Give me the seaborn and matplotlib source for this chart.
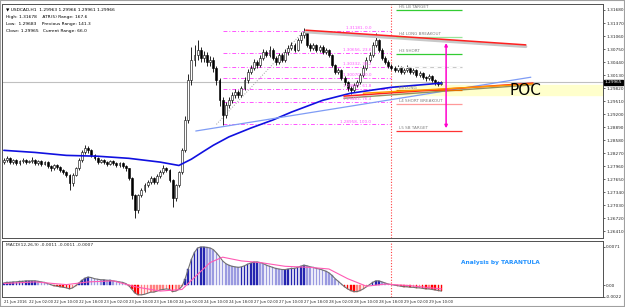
import numpy as np
import pandas as pd
import matplotlib.pyplot as plt
import seaborn as sns
from matplotlib.transforms import blended_transform_factory

sns.set_style("white")
plt.rcParams["font.family"] = ["DejaVu Sans"]

# ---- USDCAD H1 candles ----
open_first = 1.2806
close = [
    1.2810, 1.2815, 1.2806, 1.2810, 1.2803, 1.2808, 1.2810, 1.2806, 1.2808, 1.2810,
    1.2803, 1.2808, 1.2801, 1.2806, 1.2796, 1.2791, 1.2798, 1.2794, 1.2787, 1.2782,
    1.2775, 1.2756, 1.2775, 1.2791, 1.2810, 1.2829, 1.2839, 1.2834, 1.2822, 1.2815,
    1.2806, 1.2810, 1.2806, 1.2801, 1.2808, 1.2803, 1.2798, 1.2803, 1.2796, 1.2791,
    1.2768, 1.2727, 1.2691, 1.2727, 1.2739, 1.2751, 1.2758, 1.2768, 1.2758, 1.2772,
    1.2782, 1.2791, 1.2787, 1.2763, 1.2720, 1.2751, 1.2782, 1.2834, 1.2906, 1.3001,
    1.3049, 1.3061, 1.3073, 1.3054, 1.3061, 1.3044, 1.3049, 1.3030, 1.3001, 1.2953,
    1.2918, 1.2941, 1.2953, 1.2965, 1.2973, 1.2965, 1.2982, 1.3001, 1.3020, 1.3030,
    1.3044, 1.3037, 1.3054, 1.3068, 1.3061, 1.3073, 1.3054, 1.3044, 1.3061, 1.3049,
    1.3068, 1.3077, 1.3085, 1.3073, 1.3096, 1.3108, 1.3116, 1.3085, 1.3077, 1.3085,
    1.3073, 1.3080, 1.3068, 1.3073, 1.3061, 1.3037, 1.3020, 1.3025, 1.3006, 1.2996,
    1.2982, 1.2977, 1.2989, 1.2996, 1.3013, 1.3030, 1.3049, 1.3061, 1.3085, 1.3096,
    1.3073, 1.3054, 1.3044, 1.3035, 1.3030, 1.3025, 1.3032, 1.3020, 1.3025, 1.3030,
    1.3020, 1.3025, 1.3013, 1.3018, 1.3008, 1.3006, 1.3011, 1.3001, 1.2996, 1.2992,
    1.2996]
high = [
    1.2816, 1.2820, 1.2818, 1.2814, 1.2813, 1.2812, 1.2815, 1.2814, 1.2812, 1.2817,
    1.2813, 1.2811, 1.2810, 1.2809, 1.2808, 1.2799, 1.2801, 1.2802, 1.2796, 1.2790,
    1.2785, 1.2778, 1.2779, 1.2795, 1.2815, 1.2834, 1.2846, 1.2844, 1.2837, 1.2826,
    1.2818, 1.2814, 1.2813, 1.2809, 1.2811, 1.2812, 1.2806, 1.2807, 1.2806, 1.2799,
    1.2793, 1.2770, 1.2730, 1.2731, 1.2744, 1.2756, 1.2763, 1.2772, 1.2771, 1.2777,
    1.2787, 1.2798, 1.2794, 1.2790, 1.2766, 1.2755, 1.2786, 1.2840, 1.2915, 1.3015,
    1.3080, 1.3085, 1.3096, 1.3080, 1.3070, 1.3068, 1.3058, 1.3055, 1.3035, 1.3006,
    1.2960, 1.2948, 1.2960, 1.2972, 1.2980, 1.2978, 1.2988, 1.3008, 1.3027, 1.3037,
    1.3052, 1.3050, 1.3060, 1.3075, 1.3073, 1.3082, 1.3078, 1.3058, 1.3066, 1.3065,
    1.3074, 1.3084, 1.3092, 1.3090, 1.3102, 1.3115, 1.3125, 1.3120, 1.3090, 1.3090,
    1.3088, 1.3085, 1.3084, 1.3078, 1.3076, 1.3064, 1.3040, 1.3030, 1.3028, 1.3010,
    1.3000, 1.2986, 1.2994, 1.3001, 1.3018, 1.3036, 1.3055, 1.3068, 1.3092, 1.3113,
    1.3100, 1.3077, 1.3058, 1.3048, 1.3040, 1.3034, 1.3036, 1.3035, 1.3029, 1.3038,
    1.3033, 1.3030, 1.3028, 1.3022, 1.3021, 1.3012, 1.3015, 1.3014, 1.3004, 1.2999,
    1.2998]
low = [
    1.2801, 1.2806, 1.2801, 1.2802, 1.2798, 1.2800, 1.2804, 1.2802, 1.2803, 1.2805,
    1.2799, 1.2800, 1.2797, 1.2798, 1.2792, 1.2786, 1.2788, 1.2790, 1.2783, 1.2777,
    1.2770, 1.2739, 1.2750, 1.2772, 1.2788, 1.2806, 1.2825, 1.2828, 1.2818, 1.2811,
    1.2801, 1.2803, 1.2802, 1.2797, 1.2798, 1.2799, 1.2794, 1.2795, 1.2792, 1.2786,
    1.2763, 1.2718, 1.2672, 1.2686, 1.2722, 1.2735, 1.2746, 1.2754, 1.2753, 1.2755,
    1.2768, 1.2778, 1.2782, 1.2758, 1.2698, 1.2714, 1.2746, 1.2778, 1.2829, 1.2900,
    1.2990, 1.3035, 1.3050, 1.3045, 1.3044, 1.3035, 1.3035, 1.3020, 1.2990, 1.2940,
    1.2894, 1.2910, 1.2935, 1.2946, 1.2958, 1.2958, 1.2960, 1.2977, 1.2995, 1.3015,
    1.3025, 1.3030, 1.3032, 1.3048, 1.3055, 1.3056, 1.3048, 1.3038, 1.3040, 1.3044,
    1.3045, 1.3062, 1.3072, 1.3068, 1.3070, 1.3090, 1.3102, 1.3080, 1.3070, 1.3072,
    1.3068, 1.3069, 1.3063, 1.3064, 1.3056, 1.3032, 1.3015, 1.3015, 1.3001, 1.2990,
    1.2975, 1.2968, 1.2972, 1.2985, 1.2992, 1.3008, 1.3025, 1.3044, 1.3056, 1.3080,
    1.3068, 1.3048, 1.3039, 1.3030, 1.3025, 1.3020, 1.3021, 1.3016, 1.3016, 1.3021,
    1.3015, 1.3016, 1.3009, 1.3008, 1.3003, 1.3000, 1.3002, 1.2996, 1.2990, 1.2986,
    1.2990]

# moving average (dark blue), sampled points
ma_bar = [0, 10, 20, 30, 40, 50, 56, 60, 64, 67, 72, 79, 86, 92, 102, 111, 124, 140]
ma_val = [1.2834, 1.2829, 1.2822, 1.2820, 1.2815, 1.2806, 1.2798, 1.2813, 1.2832, 1.2846,
          1.2866, 1.2887, 1.2906, 1.2925, 1.2953, 1.2970, 1.2984, 1.2994]

# MACD main (histogram) per bar and signal line
macd = [
    0.0004, 0.0005, 0.0005, 0.0006, 0.0006, 0.0007, 0.0007, 0.0008, 0.0008, 0.0008,
    0.0008, 0.0007, 0.0006, 0.0005, 0.0003, 0.0001, -0.0001, -0.0002, -0.0003, -0.0004,
    -0.0005, -0.0007, -0.0005, -0.0001, 0.0004, 0.0009, 0.0013, 0.0015, 0.0014, 0.0012,
    0.0011, 0.0010, 0.0010, 0.0009, 0.0009, 0.0008, 0.0007, 0.0006, 0.0005, 0.0003,
    -0.0001, -0.0008, -0.0015, -0.0018, -0.0018, -0.0017, -0.0015, -0.0013, -0.0013, -0.0011,
    -0.0009, -0.0008, -0.0007, -0.0008, -0.0012, -0.0011, -0.0008, -0.0002, 0.0012, 0.0030,
    0.0048, 0.0061, 0.0069, 0.0071, 0.0071, 0.0070, 0.0069, 0.0066, 0.0060, 0.0053,
    0.0045, 0.0040, 0.0037, 0.0035, 0.0034, 0.0033, 0.0034, 0.0036, 0.0039, 0.0041,
    0.0043, 0.0043, 0.0042, 0.0040, 0.0037, 0.0035, 0.0033, 0.0031, 0.0030, 0.0029,
    0.0029, 0.0030, 0.0031, 0.0031, 0.0033, 0.0035, 0.0037, 0.0036, 0.0034, 0.0033,
    0.0031, 0.0030, 0.0028, 0.0026, 0.0023, 0.0018, 0.0012, 0.0007, 0.0002, -0.0003,
    -0.0007, -0.0010, -0.0012, -0.0012, -0.0010, -0.0007, -0.0003, 0.0001, 0.0005, 0.0008,
    0.0008, 0.0006, 0.0004, 0.0002, 0.0001, 0.0000, -0.0001, -0.0002, -0.0003, -0.0003,
    -0.0004, -0.0004, -0.0005, -0.0005, -0.0006, -0.0007, -0.0007, -0.0008, -0.0009, -0.0010,
    -0.0011]
sig_bar = [0, 10, 20, 27, 35, 42, 50, 57, 62, 66, 70, 76, 82, 90, 98, 104, 110, 116, 122, 130, 140]
sig_val = [0.0003, 0.0006, 0.0001, 0.0006, 0.0008, -0.0003, -0.0011, -0.0008, 0.0020, 0.0042,
           0.0052, 0.0045, 0.0042, 0.0035, 0.0033, 0.0030, 0.0012, -0.0002, 0.0002, -0.0001, -0.0007]

time_bars = [0, 8, 16, 24, 32, 40, 48, 56, 64, 72, 80, 88, 96, 104, 112, 120, 128, 136]
time_labels = ["21 Jun 2016", "22 Jun 02:00", "22 Jun 10:00", "22 Jun 18:00", "23 Jun 02:00",
               "23 Jun 10:00", "23 Jun 18:00", "24 Jun 02:00", "24 Jun 10:00", "24 Jun 18:00",
               "27 Jun 02:00", "27 Jun 10:00", "27 Jun 18:00", "28 Jun 02:00", "28 Jun 10:00",
               "28 Jun 18:00", "29 Jun 02:00", "29 Jun 10:00"]
price_ticks = [1.31680, 1.31370, 1.31060, 1.30750, 1.30440, 1.30130, 1.29820, 1.29510,
               1.29200, 1.28890, 1.28580, 1.28270, 1.27960, 1.27650, 1.27340, 1.27030,
               1.26720, 1.26410]
last_price = 1.29965

fib_pct = ["0.0", "23.6", "38.2", "50.0", "61.8", "76.4", "100.0"]
fib_price = [1.31181, 1.30656, 1.30332, 1.30070, 1.29807, 1.29483, 1.28958]

level_names = ["H5 LB TARGET", "H4 LONG BREAKOUT", "H3 SHORT", "", "L3 LONG",
               "L4 SHORT BREAKOUT", "L5 SB TARGET"]
level_price = [1.3168, 1.3104, 1.3063, 1.3032, 1.2977, 1.2944, 1.2880]
level_color = ["#33cc33", "#99e699", "#33cc33", "#c8c8c8", "#e07000", "#ff9999", "#ff3333"]

n = len(close)
bars = np.arange(n)
df = pd.DataFrame({"bar": bars, "close": close, "high": high, "low": low})
df["open"] = [open_first] + close[:-1]

fig = plt.figure(figsize=(6.25, 3.07), dpi=100)
ax = fig.add_axes([0.0032, 0.2248, 0.9616, 0.7622])
axm = fig.add_axes([0.0032, 0.0326, 0.9616, 0.1824], sharex=ax)

xlo, xhi = -0.6, 191.7
ax.set_xlim(xlo, xhi)
ax.set_ylim(1.26254, 1.31823)
axm.set_ylim(-0.0022, 0.0082)

# POC band + current price line
ax.axhspan(1.2966, 1.2989, xmin=(125 - xlo) / (xhi - xlo), xmax=1, color="#ffffcc", zorder=0)
ax.axhline(last_price, color="#c0c0c0", lw=0.8, zorder=1)

# candles
ax.vlines(df["bar"], df["low"], df["high"], color="black", lw=0.6, zorder=3)
up = df["close"] >= df["open"]
body_lo = np.minimum(df["open"], df["close"])
body_h = np.maximum((df["close"] - df["open"]).abs(), 0.00005)
ax.bar(df["bar"][up], body_h[up], bottom=body_lo[up], width=0.62, color="white",
       edgecolor="black", lw=0.4, zorder=4)
ax.bar(df["bar"][~up], body_h[~up], bottom=body_lo[~up], width=0.62, color="black",
       edgecolor="black", lw=0.4, zorder=4)

# moving average
sns.lineplot(x=ma_bar, y=ma_val, ax=ax, color="#1010e0", lw=1.2, zorder=5)

# fibonacci levels
ax.hlines(fib_price, 70, 124, colors="#ff55ff", linestyles=(0, (4, 2, 1, 2)), lw=0.7, zorder=2)
for p, pct in zip(fib_price, fib_pct):
    ax.text(117.5, p + 0.0002, f"{p:.5f}, {pct}", color="#ff55ff", fontsize=3.0,
            ha="right", va="bottom", zorder=6)
ax.plot([68, 96], [fib_price[-1], fib_price[0]], color="#a0a0a0", ls=":", lw=0.7, zorder=2)

# trend lines
ax.plot([61.4, 168.6], [1.2880, 1.3008], color="#7f9cf5", lw=0.9, zorder=5)
ax.plot([96.6, 167], [1.3116, 1.3081], color="#c8c8c8", lw=2.2, zorder=5)
ax.plot([96.6, 167], [1.3120, 1.3085], color="#ff2020", lw=1.1, zorder=6)
ax.plot([108.8, 169.3], [1.2958, 1.2990], color="#909060", lw=1.0, zorder=5)
ax.plot([108.8, 169.3], [1.2963, 1.2994], color="#ff2020", lw=1.1, zorder=6)
ax.plot([115, 169.3], [1.2970, 1.2992], color="#ff9900", lw=1.0, zorder=6)

# pivot levels
ax.hlines(level_price, 125.5, 146.5, colors=level_color, lw=0.9, zorder=5)
ax.hlines(level_price[3], 125.5, 146.5, colors="white", lw=0.9, linestyles=(0, (3, 3)), zorder=5)
for name, p in zip(level_names, level_price):
    ax.text(126.3, p + 0.00015, name, color="#808080", fontsize=3.0, va="bottom", zorder=7)

ax.annotate("", xy=(141.5, 1.2880), xytext=(141.5, 1.3096),
            arrowprops=dict(arrowstyle="<|-|>", color="#ff00cc", lw=1.1,
                            mutation_scale=4), zorder=7)
ax.text(167, 1.2977, "POC", fontsize=11, ha="center", va="center", color="black", zorder=8)

# red dotted time marker
for a in (ax, axm):
    a.axvline(124, color="#ff4040", ls=(0, (1, 1.5)), lw=0.8, zorder=2)

# price axis on the right
ax.yaxis.tick_right()
ax.set_yticks(price_ticks)
ax.set_yticklabels([f"{p:.5f}" for p in price_ticks])
ax.tick_params(axis="y", labelsize=3.1, length=1.5, pad=0.8, width=0.5, right=True)
tr = blended_transform_factory(ax.transAxes, ax.transData)
ax.text(1.003, last_price, f"{last_price:.5f}", transform=tr, fontsize=3.1, color="white",
        va="center", ha="left", bbox=dict(boxstyle="square,pad=0.12", fc="black", ec="black"))
ax.tick_params(axis="x", bottom=False, labelbottom=False)

# info text
info = ["\u25bc USDCAD,H1  1.29963 1.29966 1.29961 1.29966",
        "High: 1.31678    ATR(5) Range: 167.6",
        "Low:  1.29683    Previous Range: 141.3",
        "Close: 1.29965   Current Range: 66.0"]
for i, line in enumerate(info):
    ax.text(0.006, 0.985 - i * 0.03, line, transform=ax.transAxes, fontsize=3.2,
            va="top", color="black")

# MACD panel
rising = np.diff(np.array([macd[0]] + macd)) >= 0
macd_arr = np.array(macd)
cols = np.where(macd_arr >= 0, np.where(rising, "#2424b0", "#9a9ae0"),
                np.where(rising, "#ff8080", "#ff0000"))
axm.bar(bars, macd, width=0.5, color=cols, edgecolor=cols, lw=0.3, zorder=3)
sns.lineplot(x=bars, y=macd, ax=axm, color="#707070", lw=0.8, zorder=4)
sns.lineplot(x=sig_bar, y=sig_val, ax=axm, color="#ff5ab4", lw=0.8, zorder=5)
axm.text(0.006, 0.96, "MACD(12,26,9) -0.0011 -0.0011 -0.0007", transform=axm.transAxes,
         fontsize=3.2, va="top")
axm.text(0.83, 0.62, "Analysis by TARANTULA", transform=axm.transAxes, fontsize=4.2,
         color="#1e90ff", fontweight="bold", ha="center", va="center")
axm.yaxis.tick_right()
axm.set_yticks([0.0071, 0.0, -0.0022])
axm.set_yticklabels(["0.0071", "0.00", "-0.0022"])
axm.tick_params(axis="y", labelsize=3.1, length=1.5, pad=0.8, width=0.5)
axm.set_xticks(time_bars)
axm.set_xticklabels(time_labels, ha="left")
axm.tick_params(axis="x", labelsize=2.7, length=1.5, pad=0.8, width=0.5)

for a in (ax, axm):
    a.set_xlabel("")
    a.set_ylabel("")
    if a.get_legend() is not None:
        a.get_legend().remove()
    for s in a.spines.values():
        s.set_color("#505050")
        s.set_linewidth(0.7)

fig.patches.append(plt.Rectangle((0, 0), 1, 1, transform=fig.transFigure, fill=False,
                                 ec="#a0a0a0", lw=1.5))
fig.savefig("out.png", dpi=100)
